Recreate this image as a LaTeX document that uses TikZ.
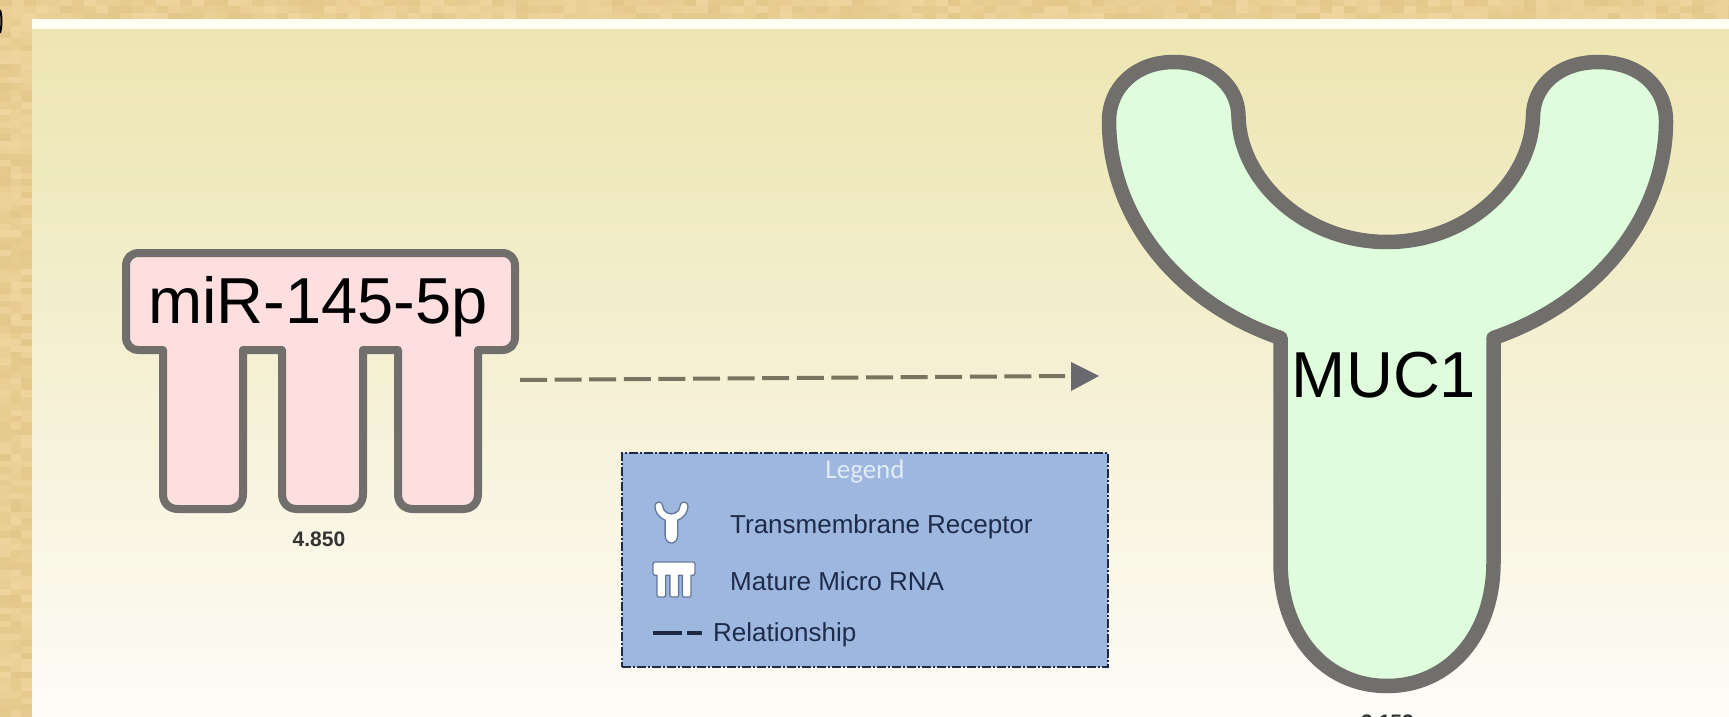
\documentclass[tikz,border=0pt]{standalone}
\usepackage{fontspec}
\setmainfont{Liberation Sans}
\newfontfamily\legendfont{Carlito}
\usetikzlibrary{arrows.meta}
\definecolor{paper}{HTML}{EACF94}
\definecolor{paperhi}{HTML}{F3DBA8}
\definecolor{paperlo}{HTML}{DDC183}
\definecolor{stripe}{HTML}{FFFFF4}
\definecolor{bgtop}{HTML}{EDE5B1}
\definecolor{bgbot}{HTML}{FDFCF7}
\definecolor{outline}{HTML}{706F6B}
\definecolor{mirfill}{HTML}{FEDFDF}
\definecolor{mucfill}{HTML}{DFFCDD}
\definecolor{legfill}{HTML}{9DB7DF}
\definecolor{legline}{HTML}{1E2A44}
\definecolor{legtext}{HTML}{1F2B4A}
\definecolor{legtitle}{HTML}{E1ECF8}
\definecolor{arrowcol}{HTML}{77745F}
\definecolor{tipcol}{HTML}{69696E}
\newcommand{\receptorpath}{
  (1238.5,117)
  .. controls (1238.5,85) and (1210,62) .. (1174,62)
  .. controls (1135,62) and (1109,88) .. (1109,121)
  .. controls (1109,210) and (1170,300) .. (1280.5,338)
  -- (1280.5,562)
  .. controls (1280.5,635) and (1325,686) .. (1387,686)
  .. controls (1449,686) and (1493.5,635) .. (1493.5,562)
  -- (1493.5,338)
  .. controls (1604,300) and (1666,210) .. (1666,121)
  .. controls (1666,88) and (1640,62) .. (1598,62)
  .. controls (1560,62) and (1533,85) .. (1533,117)
  .. controls (1531,180) and (1470,242) .. (1387,242)
  .. controls (1304,242) and (1240,180) .. (1238.5,117) -- cycle}
\newcommand{\mirnapath}{
  (139,253) -- (502,253)
  .. controls (510,253) and (515,258) .. (515,266)
  -- (515,337)
  .. controls (515,345) and (510,350) .. (502,350)
  -- (478,350) -- (478,494)
  .. controls (478,503) and (472,509) .. (463,509)
  -- (413,509)
  .. controls (404,509) and (398,503) .. (398,494)
  -- (398,350) -- (363,350) -- (363,494)
  .. controls (363,503) and (357,509) .. (348,509)
  -- (297,509)
  .. controls (288,509) and (282,503) .. (282,494)
  -- (282,350) -- (243,350) -- (243,494)
  .. controls (243,503) and (237,509) .. (228,509)
  -- (178,509)
  .. controls (169,509) and (163,503) .. (163,494)
  -- (163,350) -- (139,350)
  .. controls (131,350) and (126,345) .. (126,337)
  -- (126,266)
  .. controls (126,258) and (131,253) .. (139,253) -- cycle}
\tikzset{
  receptor/.style={draw=outline,fill=mucfill,line width=14.5pt,line join=round},
  mirna/.style={draw=outline,fill=mirfill,line width=8pt,line join=round},
  iconshape/.style={draw=legline!45!legfill,fill=white,line width=1.3pt,line join=round},
  biglabel/.style={font=\fontsize{65}{65}\selectfont,text=black,inner sep=0pt},
  valuelabel/.style={font=\fontsize{21}{21}\selectfont\bfseries,text=black!80,inner sep=0pt},
  legendlabel/.style={font=\fontsize{26}{26}\selectfont,text=legtext,inner sep=0pt,anchor=base west},
  relation/.style={draw=arrowcol,line width=4pt,dash pattern=on 27pt off 7.6pt},
  legendkey/.style={draw=legline,line width=3.5pt}
}
\begin{document}
\begin{tikzpicture}[x=1pt,y=-1pt]
\useasboundingbox (0,0) rectangle (1729,717);
\clip (0,0) rectangle (1729,717);
% papyrus border
\fill[paper] (0,0) rectangle (1729,717);
\pgfmathsetseed{145}
\foreach \i in {0,1,...,144}{
  \foreach \r in {0,1,2}{
    \pgfmathsetmacro{\aa}{rnd*55}
    \pgfmathtruncatemacro{\pick}{rnd*2}
    \ifnum\pick=0\def\tone{paperhi}\else\def\tone{paperlo}\fi
    \fill[\tone,opacity=\aa/100] (\i*12,\r*6.4) rectangle ++(12,6.4);
  }
}
\foreach \j in {3,4,...,112}{
  \foreach \c in {0,1,2}{
    \pgfmathsetmacro{\aa}{rnd*55}
    \pgfmathtruncatemacro{\pick}{rnd*2}
    \ifnum\pick=0\def\tone{paperhi}\else\def\tone{paperlo}\fi
    \fill[\tone,opacity=\aa/100] (\c*10.7,\j*6.4) rectangle ++(10.7,6.4);
  }
}
\draw[black,line width=2pt] (0,10) .. controls (2,16) and (2,26) .. (0,33);
% panel
\fill[stripe] (32,19) rectangle (1729,30);
\shade[top color=bgtop,bottom color=bgbot,middle color=bgtop!50!bgbot] (32,30) rectangle (1729,717);
% miRNA
\path[mirna] \mirnapath;
\node[biglabel,anchor=base] (mirname) at (318,323) {miR-145-5p};
\node[valuelabel] (mirvalue) at (319,539) {4.850};
% receptor
\path[receptor] \receptorpath;
\node[biglabel] (mucname) at (1384,375) {MUC1};
\node[valuelabel,anchor=base] (mucvalue) at (1384,729) {-3.153};
% relationship
\coordinate (relstart) at (520,380);
\coordinate (relend) at (1065,376);
\coordinate (tiptop) at (1071,362);
\coordinate (tipbot) at (1071,391);
\coordinate (tipend) at (1099,376);
\draw[relation] (relstart) -- (relend);
\fill[tipcol] (tiptop) -- (tipend) -- (tipbot) -- cycle;
% legend
\node[draw=legline,fill=legfill,line width=1.6pt,dash pattern=on 9pt off 2pt on 2pt off 2pt,
      minimum width=486pt,minimum height=214pt,inner sep=0pt] (legend) at (865,560) {};
\node[font=\legendfont\fontsize{27}{27}\selectfont,text=legtitle,inner sep=0pt] (legtitle) at (865,471) {Legend};
\begin{scope}[shift={(589.2,498)},xscale=0.0593,yscale=0.0657]
  \path[iconshape] \receptorpath;
\end{scope}
\begin{scope}[shift={(639.4,527.3)},xscale=0.108,yscale=0.137]
  \path[iconshape] \mirnapath;
\end{scope}
\node[legendlabel] (legrec) at (730,533) {Transmembrane Receptor};
\node[legendlabel] (legmat) at (730,590) {Mature Micro RNA};
\node[legendlabel] (legrel) at (713,641) {Relationship};
\coordinate (keya) at (653,633);
\coordinate (keyb) at (682,633);
\coordinate (keyc) at (687,633);
\coordinate (keyd) at (702,633);
\draw[legendkey] (keya) -- (keyb);
\draw[legendkey] (keyc) -- (keyd);
\end{tikzpicture}
\end{document}
